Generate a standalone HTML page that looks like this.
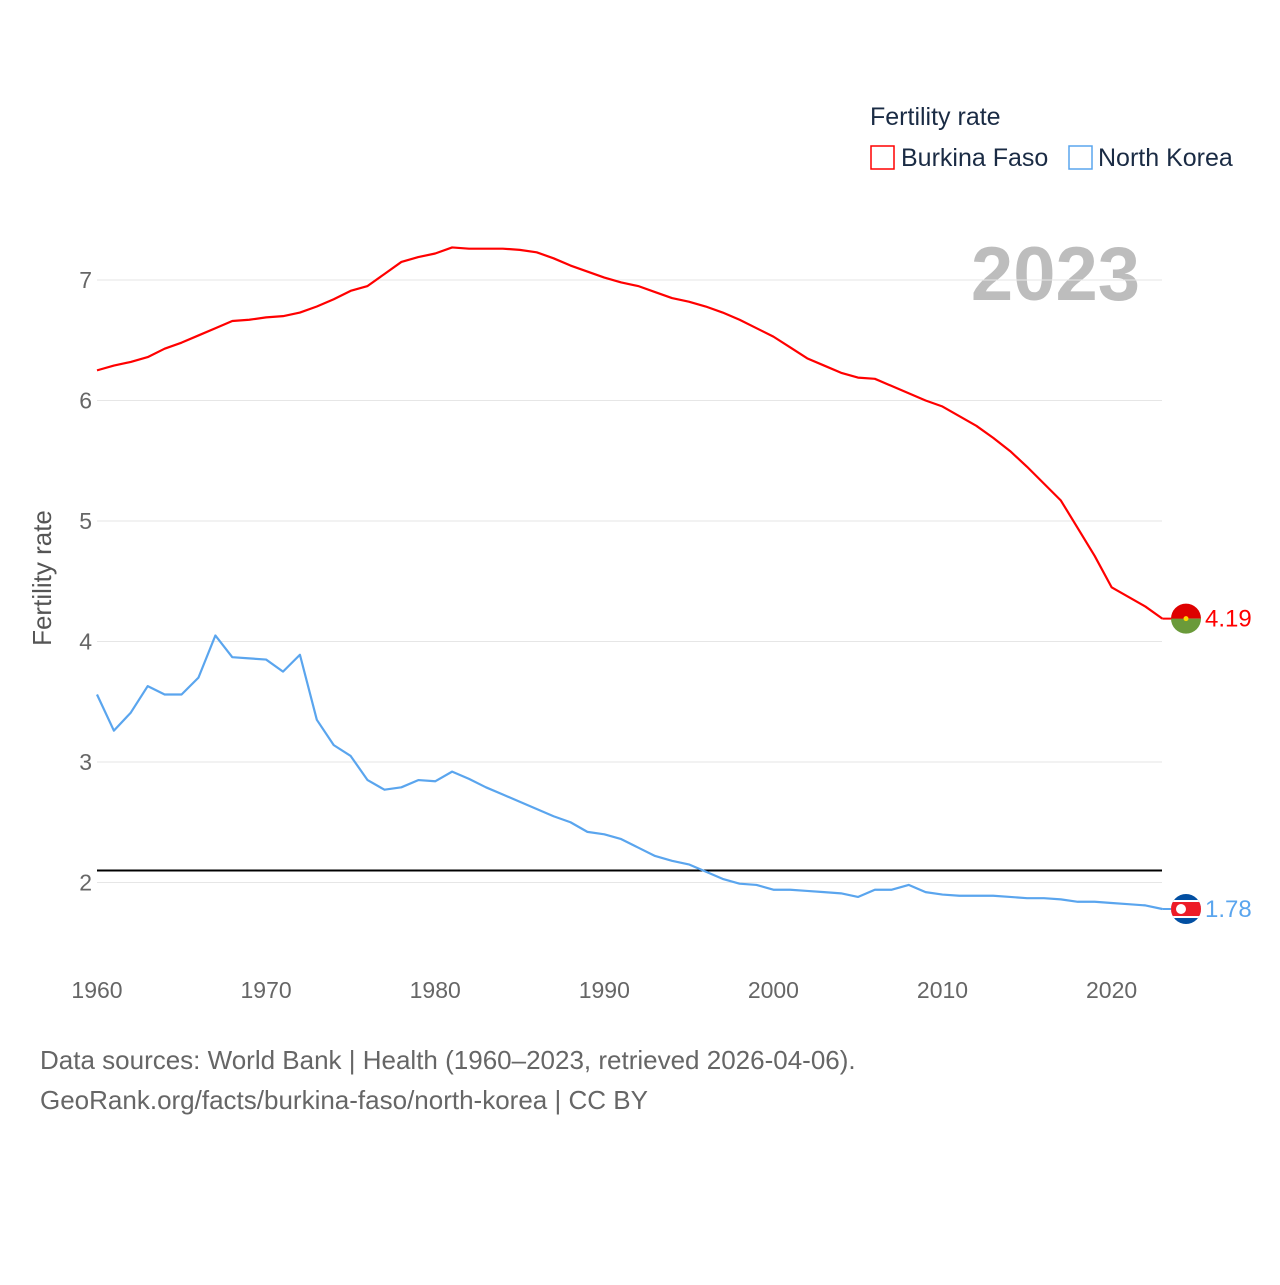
<!DOCTYPE html>
<html><head><meta charset="utf-8">
<style>
body{margin:0;background:#fff;font-family:"Liberation Sans",sans-serif}
#wrap{position:relative;width:1280px;height:1280px}
</style></head>
<body>
<div id="wrap">
<svg id="chart" width="1280" height="1280">
<text x="870" y="125" font-size="25" fill="#1a2b44">Fertility rate</text>
<g>
<rect x="871" y="146" width="23" height="23" fill="none" stroke="#ff0000" stroke-width="1.5"/>
<text x="901" y="166" font-size="25" fill="#1a2b44">Burkina Faso</text></g>
<g>
<rect x="1069" y="146" width="23" height="23" fill="none" stroke="#5aa5ee" stroke-width="1.5"/>
<text x="1098" y="166" font-size="25" fill="#1a2b44">North Korea</text></g>
<text x="1140" y="300" font-size="76" font-weight="bold" fill="#bdbdbd" text-anchor="end">2023</text>
<text transform="translate(51,578) rotate(-90)" font-size="26" fill="#555" text-anchor="middle">Fertility rate</text>
<g id="grid"></g><g id="series"></g>
<text x="40" y="1069" font-size="26" fill="#666">Data sources: World Bank | Health (1960–2023, retrieved 2026-04-06).</text>
<text x="40" y="1109" font-size="26" fill="#666">GeoRank.org/facts/burkina-faso/north-korea | CC BY</text>
</svg></div>
<script>
const years=[];for(let y=1960;y<=2023;y++)years.push(y);
const burkinaFaso=[6.25,6.29,6.32,6.36,6.43,6.48,6.54,6.60,6.66,6.67,6.69,6.70,6.73,6.78,6.84,6.91,6.95,7.05,7.15,7.19,7.22,7.27,7.26,7.26,7.26,7.25,7.23,7.18,7.12,7.07,7.02,6.98,6.95,6.90,6.85,6.82,6.78,6.73,6.67,6.60,6.53,6.44,6.35,6.29,6.23,6.19,6.18,6.12,6.06,6.00,5.95,5.87,5.79,5.69,5.58,5.45,5.31,5.17,4.94,4.71,4.45,4.37,4.29,4.19];
const northKorea=[3.56,3.26,3.41,3.63,3.56,3.56,3.70,4.05,3.87,3.86,3.85,3.75,3.89,3.35,3.14,3.05,2.85,2.77,2.79,2.85,2.84,2.92,2.86,2.79,2.73,2.67,2.61,2.55,2.50,2.42,2.40,2.36,2.29,2.22,2.18,2.15,2.09,2.03,1.99,1.98,1.94,1.94,1.93,1.92,1.91,1.88,1.94,1.94,1.98,1.92,1.90,1.89,1.89,1.89,1.88,1.87,1.87,1.86,1.84,1.84,1.83,1.82,1.81,1.78];
const yTicks=[2,3,4,5,6,7];
const xTicks=[1960,1970,1980,1990,2000,2010,2020];
const replacementRate=2.1;
const X=y=>97+(y-1960)*16.91;
const Y=v=>280+(7-v)*120.5;
const NS="http://www.w3.org/2000/svg";
const grid=document.getElementById('grid'),ser=document.getElementById('series');
function mk(tag,attrs,parent){const e=document.createElementNS(NS,tag);for(const k in attrs)e.setAttribute(k,attrs[k]);parent.appendChild(e);return e;}
yTicks.forEach(t=>{
 const l=mk('line',{x1:97,x2:1162,y1:Y(t),y2:Y(t),stroke:'#e6e6e6','stroke-width':1},grid);
 
 
 const tx=mk('text',{x:92,y:Y(t)+8,'font-size':23,fill:'#666','text-anchor':'end'},grid);tx.textContent=t;
 
 
});
xTicks.forEach(t=>{
 const tx=mk('text',{x:X(t),y:998,'font-size':23,fill:'#666','text-anchor':'middle'},grid);tx.textContent=t;
 
 
});
const rl=mk('line',{x1:97,x2:1162,y1:Y(replacementRate),y2:Y(replacementRate),stroke:'#000','stroke-width':2},ser);


function line(vals,color,name){
 const p=mk('polyline',{points:vals.map((v,i)=>X(years[i])+','+Y(v)).join(' '),fill:'none',stroke:color,'stroke-width':2.2,'stroke-linejoin':'round'},ser);
 
 
 const last=vals[vals.length-1],cy=Y(last);
 mk('line',{x1:X(2023),x2:1186,y1:cy,y2:cy,stroke:color,'stroke-width':2},ser);
 const t=mk('text',{x:1205,y:cy+8,'font-size':24,fill:color},ser);t.textContent=last.toFixed(2);
 
 
 return cy;
}
const by=line(burkinaFaso,'#ff0000','burkina-faso');
const ny=line(northKorea,'#5aa5ee','north-korea');
let g=mk('g',{},ser);


mk('path',{d:`M1171,${by} a15,15 0 0 1 30,0 z`,fill:'#de0000'},g);
mk('path',{d:`M1171,${by} a15,15 0 0 0 30,0 z`,fill:'#6a9a3a'},g);
mk('circle',{cx:1186,cy:by,r:2.5,fill:'#ffd700'},g);
g=mk('g',{},ser);


const cp=mk('clipPath',{id:'nkc'},g);
mk('circle',{cx:1186,cy:ny,r:15},cp);
const gg=mk('g',{'clip-path':'url(#nkc)'},g);
mk('rect',{x:1171,y:ny-15,width:30,height:30,fill:'#024fa2'},gg);
mk('rect',{x:1171,y:ny-9,width:30,height:18,fill:'#fff'},gg);
mk('rect',{x:1171,y:ny-7,width:30,height:14,fill:'#ed1c27'},gg);
mk('circle',{cx:1181,cy:ny,r:5,fill:'#fff'},gg);
</script>
</body></html>
